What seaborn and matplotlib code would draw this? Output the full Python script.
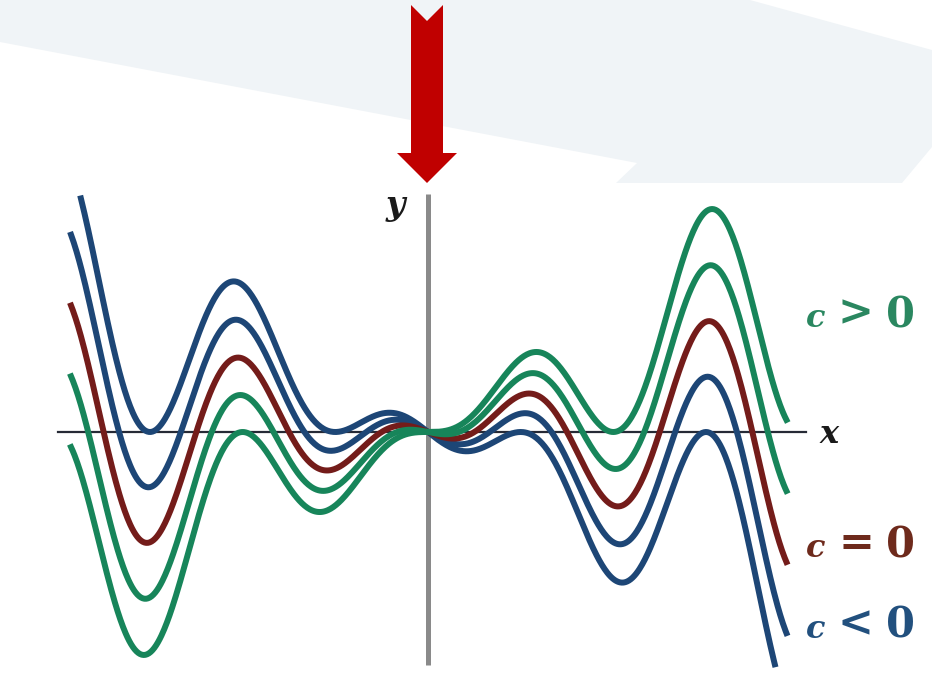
# Family of curves y = -x cos(x) + C x, drawn for a few values of C
import numpy as np
import pandas as pd
import matplotlib
matplotlib.use("Agg")
import matplotlib.pyplot as plt
from matplotlib.patches import Polygon
import seaborn as sns

# values
c_values = [-1.0, -0.5, 0.0, 0.5, 1.0]
curve_colors = ["#1d4676", "#1d4676", "#741c1a", "#17855a", "#17855a"]
x_start, x_end = -12.1, 12.15
y_clip = 20.0
axis_x = [-12.55, 12.8]
axis_y = [-19.9, 20.3]
label_rows = [("c", ">", "0", "#2a8760"),
              ("c", "=", "0", "#6e2a1c"),
              ("c", "<", "0", "#22507e")]

# build the curves
xs = np.linspace(x_start, x_end, 800)
frames = []
for c in c_values:
    y = -xs * np.cos(xs) + c * xs
    part = pd.DataFrame({"x": xs, "y": y, "c": c})
    part = part[part["y"].abs() <= y_clip]
    frames.append(part)
df = pd.concat(frames, ignore_index=True)

fig = plt.figure(figsize=(9.32, 6.85), dpi=100)

# background layer in pixel coordinates
bg = fig.add_axes([0, 0, 1, 1])
bg.set_xlim(0, 932)
bg.set_ylim(685, 0)
bg.axis("off")
band = [(0, 0), (750, 0), (932, 50), (932, 147), (902, 183),
        (616, 183), (637, 163), (0, 42)]
bg.add_patch(Polygon(band, closed=True, facecolor="#f0f4f7", edgecolor="none"))
arrow = [(411, 5), (427, 21), (443, 5), (443, 153), (457, 153),
         (427, 183), (397, 153), (411, 153)]
bg.add_patch(Polygon(arrow, closed=True, facecolor="#c00000", edgecolor="none"))

# chart layer in data coordinates (29.5 px per x unit, 11.7 px per y unit)
ax = fig.add_axes([0, 0, 1, 1])
ax.set_zorder(1)
ax.patch.set_alpha(0)

ax.plot(axis_x, [0, 0], color="#262a36", lw=1.6, zorder=1)
ax.plot([0, 0], axis_y, color="#8a8a8a", lw=3.6, zorder=1, solid_capstyle="butt")

palette = dict(zip(c_values, curve_colors))
sns.lineplot(data=df, x="x", y="y", hue="c", hue_order=c_values,
             palette=palette, sort=False, estimator=None, legend=False,
             lw=4.3, ax=ax, zorder=3)
ax.set_xlim(-428 / 29.5, (932 - 428) / 29.5)
ax.set_ylim(-(685 - 432) / 11.7, 432 / 11.7)
ax.axis("off")

# axis letters
lab = dict(family="DejaVu Serif", weight="bold", style="italic", color="#1a1a1a")
bg.text(829, 443, "x", ha="center", va="baseline", fontsize=23, **lab)
bg.text(395, 215, "y", ha="center", va="baseline", fontsize=24, **lab)

# c labels
baselines = [327, 557, 638]
for (c, op, zero, col), base in zip(label_rows, baselines):
    bg.text(816, base, c, ha="center", va="baseline", fontsize=23,
            family="DejaVu Serif", weight="bold", style="italic", color=col)
    bg.text(856, base - 2, op, ha="center", va="baseline", fontsize=31,
            family="DejaVu Serif", weight="bold", color=col)
    bg.text(900, base, zero, ha="center", va="baseline", fontsize=30,
            family="DejaVu Serif", weight="bold", color=col)

fig.savefig("out.png", dpi=100)
